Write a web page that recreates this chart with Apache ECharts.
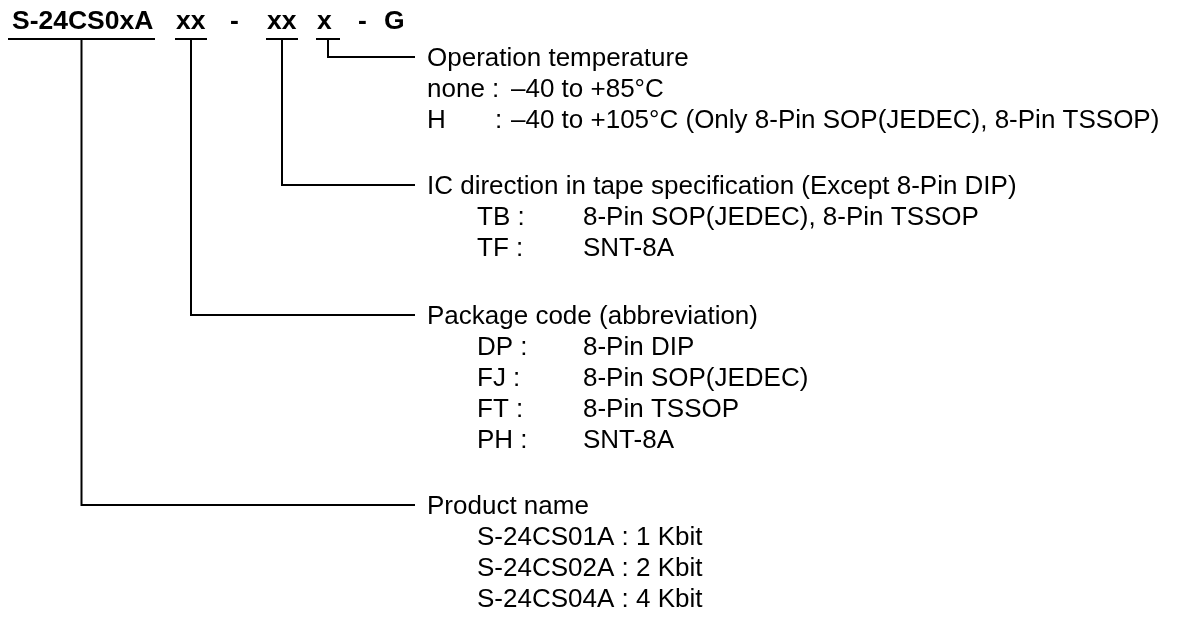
<!DOCTYPE html>
<html>
<head>
<meta charset="utf-8">
<script src="https://cdn.jsdelivr.net/npm/echarts@6/dist/echarts.min.js"></script>
<style>
html, body { margin: 0; padding: 0; background: #fff; }
#main { width: 1192px; height: 618px; }
</style>
</head>
<body>
<div id="main"></div>
<script>
// parts of the product code
var codeParts = ['S-24CS0xA', 'xx', '-', 'xx', 'x', '-', 'G'];
var titles = ['Operation temperature', 'IC direction in tape specification (Except 8-Pin DIP)', 'Package code (abbreviation)', 'Product name'];
var tempCodes = ['none', 'H'];
var tempRanges = ['\u201340 to +85\u00b0C', '\u201340 to +105\u00b0C (Only 8-Pin SOP(JEDEC), 8-Pin TSSOP)'];
var tapeCodes = ['TB', 'TF'];
var tapeSpecs = ['8-Pin SOP(JEDEC), 8-Pin TSSOP', 'SNT-8A'];
var pkgCodes = ['DP', 'FJ', 'FT', 'PH'];
var pkgNames = ['8-Pin DIP', '8-Pin SOP(JEDEC)', '8-Pin TSSOP', 'SNT-8A'];
var productNames = ['S-24CS01A', 'S-24CS02A', 'S-24CS04A'];
var productSizes = ['1 Kbit', '2 Kbit', '4 Kbit'];
// which code part each title points at
var titlePart = [4, 3, 1, 0];

// layout, in the 1192 x 618 axis space
var partX = [12, 176, 230, 267, 317, 358, 384];
var underline = { 0: [8, 155], 1: [175, 207], 3: [266, 298], 4: [316, 340] };
var headY = 20, ulineY = 39;
var titleY = [57, 185, 315, 505];
var pitch = 31, textDy = 2;
var lineEnd = 415, titleX = 427, codeX = 477, valX = 583;
var tempColonX = [492, 495], tempValX = 511;

var FONT = '26px "Liberation Sans", Arial, sans-serif';
var BOLD = 'bold 26.5px "Liberation Sans", Arial, sans-serif';

// build text items
var texts = [];
function addText(x, y, s, font) { texts.push({ value: [x, y + textDy], s: s, font: font }); }

codeParts.forEach(function (p, i) { addText(partX[i], headY, p, BOLD); });
titles.forEach(function (t, i) { addText(titleX, titleY[i], t, FONT); });
tempCodes.forEach(function (c, j) {
    var y = titleY[0] + pitch * (j + 1);
    addText(titleX, y, c, FONT);
    addText(tempColonX[j], y, ':', FONT);
    addText(tempValX, y, tempRanges[j], FONT);
});
tapeCodes.forEach(function (c, j) {
    var y = titleY[1] + pitch * (j + 1);
    addText(codeX, y, c + ' :', FONT);
    addText(valX, y, tapeSpecs[j], FONT);
});
pkgCodes.forEach(function (c, j) {
    var y = titleY[2] + pitch * (j + 1);
    addText(codeX, y, c + ' :', FONT);
    addText(valX, y, pkgNames[j], FONT);
});
productNames.forEach(function (n, j) {
    var y = titleY[3] + pitch * (j + 1);
    addText(codeX, y, n + ' : ' + productSizes[j], FONT);
});

// underlines and connectors
var lines = [];
Object.keys(underline).forEach(function (k) {
    var u = underline[k];
    lines.push({ value: [u[0], ulineY], pts: [[u[0], ulineY], [u[1], ulineY]] });
});
titlePart.forEach(function (p, i) {
    var u = underline[p];
    var cx = (u[0] + u[1]) / 2;
    lines.push({ value: [cx, ulineY], pts: [[cx, ulineY], [cx, titleY[i]], [lineEnd, titleY[i]]] });
});

var myChart = echarts.init(document.getElementById('main'));
var option = {
    animation: false,
    backgroundColor: '#fff',
    grid: { left: 0, right: 0, top: 0, bottom: 0 },
    xAxis: { type: 'value', min: 0, max: 1192, show: false },
    yAxis: { type: 'value', min: 0, max: 618, inverse: true, show: false },
    series: [{
        type: 'custom',
        silent: true,
        clip: false,
        data: lines,
        renderItem: function (params, api) {
            var d = lines[params.dataIndex];
            return {
                type: 'polyline',
                shape: { points: d.pts.map(function (p) { return api.coord(p); }) },
                style: { stroke: '#000', lineWidth: 2, fill: null }
            };
        }
    }, {
        type: 'custom',
        silent: true,
        clip: false,
        data: texts,
        renderItem: function (params, api) {
            var d = texts[params.dataIndex];
            var pt = api.coord([api.value(0), api.value(1)]);
            return {
                type: 'text',
                x: pt[0],
                y: pt[1],
                style: { text: d.s, font: d.font, fill: '#000', align: 'left', verticalAlign: 'middle' }
            };
        }
    }]
};
myChart.setOption(option);
</script>
</body>
</html>
